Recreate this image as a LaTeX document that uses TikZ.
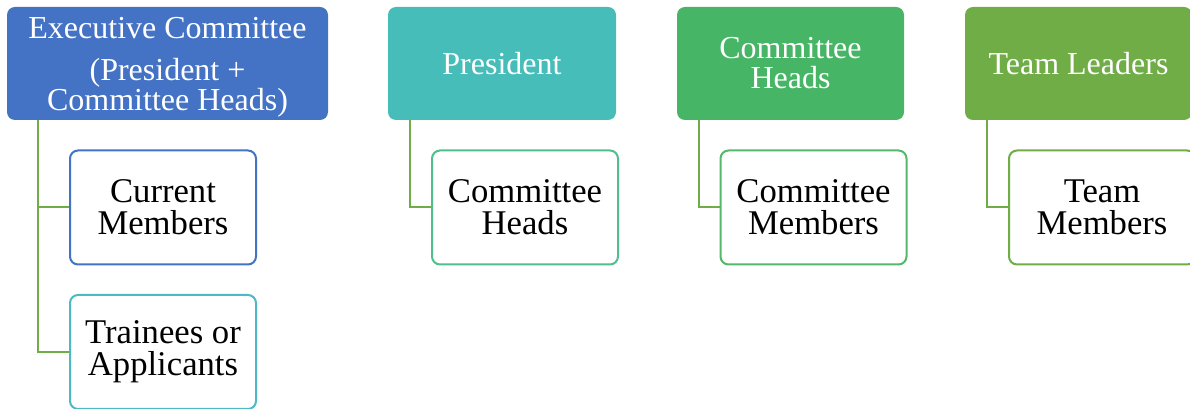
\documentclass[tikz,border=0pt]{standalone}
\usepackage{fontspec}
\setmainfont{Liberation Serif}
\usetikzlibrary{calc}
\definecolor{hdblue}{HTML}{4472C4}
\definecolor{hdteal}{HTML}{46BDB9}
\definecolor{hdgreen}{HTML}{47B566}
\definecolor{hdlime}{HTML}{70AD47}
\definecolor{bdteal}{HTML}{4DB8C8}
\definecolor{bdmint}{HTML}{4FC08D}
\definecolor{bdgreen}{HTML}{55B86A}
\tikzset{
	head/.style={rounded corners=6pt, inner sep=0pt, minimum height=84.75pt, text=white, align=center, font=\fontsize{24}{22.5}\selectfont},
	member/.style={draw, line width=1.5pt, fill=white, rounded corners=6pt, inner sep=0pt, minimum width=139.5pt, minimum height=85.5pt, align=center, font=\fontsize{26}{24}\selectfont},
	link/.style={draw=hdlime, line width=1.5pt}
}
\begin{document}
\begin{tikzpicture}[x=0.75pt, y=-0.75pt]
			%%%%% START %%%%%
			
			\useasboundingbox (0, 0) rectangle (1190, 409);
			
			\node[head, fill=hdblue, minimum width=240.75pt] (exec) at (167.5, 63.5) {\rule{0pt}{22pt}Executive Committee\\[9pt](President +\\Committee Heads)};
			\node[head, fill=hdteal, minimum width=171pt] (pres) at (502, 63.5) {President};
			\node[head, fill=hdgreen, minimum width=170.25pt] (heads) at (790.5, 63.5) {Committee\\Heads};
			\node[head, fill=hdlime, minimum width=170.25pt] (leaders) at (1078.5, 63.5) {Team Leaders};
			
			\node[member, draw=hdblue] (current) at (163, 207.5) {Current\\Members};
			\node[member, draw=bdteal] (trainees) at (163, 352) {Trainees or\\Applicants};
			\node[member, draw=bdmint] (cheads) at (525, 207.5) {Committee\\Heads};
			\node[member, draw=bdgreen] (cmembers) at (813.5, 207.5) {Committee\\Members};
			\node[member, draw=hdlime] (tmembers) at (1102, 207.5) {Team\\Members};
			
			\draw[link] ($(exec.south west)+(31, 0)$) |- (current.west);
			\draw[link] ($(exec.south west)+(31, 0)$) |- (trainees.west);
			\draw[link] ($(pres.south west)+(22, 0)$) |- (cheads.west);
			\draw[link] ($(heads.south west)+(22, 0)$) |- (cmembers.west);
			\draw[link] ($(leaders.south west)+(22, 0)$) |- (tmembers.west);
			
			%%%%% END %%%%%
		\end{tikzpicture}
\end{document}
